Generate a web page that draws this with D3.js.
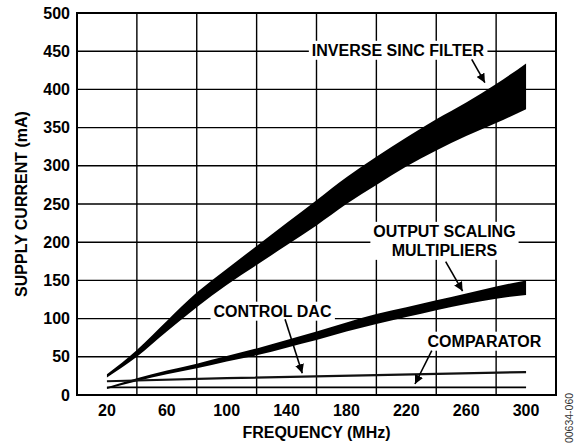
<!DOCTYPE html>
<html>
<head>
<meta charset="utf-8">
<script src="https://cdn.jsdelivr.net/npm/d3@7"></script>
<style>
  body { margin: 0; background: #fff; }
  svg text { font-family: "Liberation Sans", Arial, sans-serif; font-weight: bold; fill: #000; }
</style>
</head>
<body>
<div id="chart"></div>
<script>
// frequency points (MHz)
const freq = [20, 40, 60, 80, 100, 120, 140, 160, 180, 200, 220, 240, 260, 280, 300];
// inverse sinc filter band (mA)
const sincHigh = [27, 59, 97, 134, 165, 195, 225, 255, 285, 312, 337, 361, 383, 407, 434];
const sincLow  = [23, 50, 83, 115, 144, 170, 196, 222, 250, 275, 299, 320, 339, 356, 374];
// output scaling multipliers band (mA)
const osmHigh = [10, 22, 32, 41, 51, 61, 72, 83, 95, 106, 115, 124, 133, 142, 150];
const osmLow  = [8, 18, 27, 35, 44, 52, 62, 72, 83, 93, 102, 111, 119, 126, 131];
// single lines
const dacFreq = [20, 100, 200, 300];
const dacVals = [18, 22, 26, 30];
const compFreq = [20, 300];
const compVals = [10, 10];

const xTicks = [20, 60, 100, 140, 180, 220, 260, 300];
const xGrid = [0, 40, 80, 120, 160, 200, 240, 280, 320];
const yTicks = [0, 50, 100, 150, 200, 250, 300, 350, 400, 450, 500];

// labels: text lines, centre x / baseline y, arrow from -> to (data units)
const notes = [
  {lines: ['INVERSE SINC FILTER'], x: 214.4, y: 444, ax: [263.7, 439.4], at: [272.5, 408.8]},
  {lines: ['OUTPUT SCALING', 'MULTIPLIERS'], x: 245.5, y: 207, ax: [246.3, 174.5], at: [257.6, 136]},
  {lines: ['CONTROL DAC'], x: 130.6, y: 102.5, ax: [139, 99], at: [150.5, 28.4]},
  {lines: ['COMPARATOR'], x: 272.2, y: 63.2, ax: [237, 58], at: [225.8, 14.4]}
];

const w = 578, h = 444;
const svg = d3.select('#chart').append('svg').attr('width', w).attr('height', h);

const xScale = d3.scaleLinear().domain([0, 320]).range([77, 556]);
const yScale = d3.scaleLinear().domain([0, 500]).range([395, 13]);

// grid
svg.append('g').selectAll('line').data(xGrid).enter().append('line')
   .attr('x1', d => xScale(d)).attr('x2', d => xScale(d))
   .attr('y1', yScale(0)).attr('y2', yScale(500))
   .attr('stroke', '#000').attr('stroke-width', 1.4);
svg.append('g').selectAll('line').data(yTicks).enter().append('line')
   .attr('x1', xScale(0)).attr('x2', xScale(320))
   .attr('y1', d => yScale(d)).attr('y2', d => yScale(d))
   .attr('stroke', '#000').attr('stroke-width', 1.4);

// bands
const area = d3.area().curve(d3.curveMonotoneX)
   .x(d => xScale(d[0])).y0(d => yScale(d[1])).y1(d => yScale(d[2]));
svg.append('path').datum(freq.map((f, i) => [f, sincLow[i], sincHigh[i]]))
   .attr('d', area).attr('fill', '#000');
svg.append('path').datum(freq.map((f, i) => [f, osmLow[i], osmHigh[i]]))
   .attr('d', area).attr('fill', '#000');

// lines
const line = d3.line().x(d => xScale(d[0])).y(d => yScale(d[1]));
svg.append('path').datum(dacFreq.map((f, i) => [f, dacVals[i]]))
   .attr('d', line).attr('fill', 'none').attr('stroke', '#111').attr('stroke-width', 2.2);
svg.append('path').datum(compFreq.map((f, i) => [f, compVals[i]]))
   .attr('d', line).attr('fill', 'none').attr('stroke', '#000').attr('stroke-width', 1.6);

// frame
svg.append('rect').attr('x', xScale(0)).attr('y', yScale(500))
   .attr('width', xScale(320) - xScale(0)).attr('height', yScale(0) - yScale(500))
   .attr('fill', 'none').attr('stroke', '#000').attr('stroke-width', 2);

// axes labels
svg.append('g').selectAll('text').data(yTicks).enter().append('text')
   .attr('x', 70).attr('y', d => yScale(d) + 5.5)
   .attr('text-anchor', 'end').style('font-size', '16px').text(d => d);
svg.append('g').selectAll('text').data(xTicks).enter().append('text')
   .attr('x', d => xScale(d)).attr('y', 416)
   .attr('text-anchor', 'middle').style('font-size', '16px').text(d => d);

svg.append('text').attr('x', 316.5).attr('y', 438)
   .attr('text-anchor', 'middle').style('font-size', '16px').text('FREQUENCY (MHz)');
svg.append('text').attr('transform', 'translate(27,204) rotate(-90)')
   .attr('text-anchor', 'middle').style('font-size', '16px').text('SUPPLY CURRENT (mA)');
svg.append('text').attr('transform', 'translate(573,418) rotate(-90)')
   .attr('text-anchor', 'middle').style('font-size', '10.5px').style('font-weight', 'normal')
   .style('fill', '#333').text('00634-060');

// annotations
svg.append('defs').append('marker')
   .attr('id', 'head').attr('viewBox', '0 0 10 10').attr('refX', 10).attr('refY', 5)
   .attr('markerWidth', 9).attr('markerHeight', 9).attr('markerUnits', 'userSpaceOnUse')
   .attr('orient', 'auto')
   .append('path').attr('d', 'M0,0L10,5L0,10Z').attr('fill', '#000');

notes.forEach(n => {
  const g = svg.append('g');
  const bg = g.append('rect').attr('fill', '#fff');
  const t = g.append('text').attr('text-anchor', 'middle').style('font-size', '16px');
  n.lines.forEach((s, i) => {
    t.append('tspan').attr('x', xScale(n.x)).attr('y', yScale(n.y) + i * 19).text(s);
  });
  const b = t.node().getBBox();
  bg.attr('x', b.x - 3).attr('y', b.y - 1).attr('width', b.width + 6).attr('height', b.height + 2);
  g.append('line')
   .attr('x1', xScale(n.ax[0])).attr('y1', yScale(n.ax[1]))
   .attr('x2', xScale(n.at[0])).attr('y2', yScale(n.at[1]))
   .attr('stroke', '#000').attr('stroke-width', 1.6)
   .attr('marker-end', 'url(#head)');
});
</script>
</body>
</html>
